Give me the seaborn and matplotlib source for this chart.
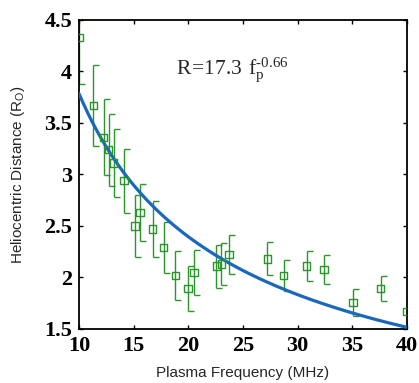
import numpy as np
import pandas as pd
import matplotlib
matplotlib.use("Agg")
import matplotlib.pyplot as plt
from matplotlib.path import Path
import seaborn as sns

# Observed plasma frequencies (MHz), heliocentric distances (R_O) and 1-sigma errors
freq_mhz = [10.0, 11.32, 12.26, 12.72, 13.17, 14.12, 15.12, 15.58, 16.74, 17.74,
            18.8, 19.97, 20.52, 22.56, 23.03, 23.73, 27.22, 28.72, 30.83, 32.42,
            35.07, 37.6, 40.0]
distance = [4.33, 3.67, 3.36, 3.24, 3.11, 2.94, 2.50, 2.63, 2.47, 2.29,
            2.02, 1.89, 2.05, 2.11, 2.13, 2.22, 2.18, 2.02, 2.11, 2.08,
            1.76, 1.89, 1.67]
dist_err = [0.45, 0.39, 0.37, 0.35, 0.33, 0.31, 0.30, 0.28, 0.27, 0.25,
            0.24, 0.22, 0.22, 0.21, 0.20, 0.19, 0.16, 0.15, 0.145, 0.14,
            0.13, 0.12, 0.11]

# Power-law fit R = a * f^b
fit_a = 17.3
fit_b = -0.66

x_ticks = [10, 15, 20, 25, 30, 35, 40]
y_ticks = [1.5, 2.0, 2.5, 3.0, 3.5, 4.0, 4.5]
y_tick_labels = ["1.5", "2", "2.5", "3", "3.5", "4", "4.5"]

sns.set_style("ticks")
plt.rcParams["mathtext.fontset"] = "custom"
plt.rcParams["mathtext.rm"] = "Liberation Serif"
plt.rcParams["mathtext.sf"] = "Liberation Sans"
plt.rcParams["font.family"] = ["Liberation Sans", "DejaVu Sans"]

df = pd.DataFrame({"freq": freq_mhz, "dist": distance, "err": dist_err})
f_grid = np.linspace(min(x_ticks), max(x_ticks), 300)
fit_df = pd.DataFrame({"freq": f_grid, "dist": fit_a * f_grid ** fit_b})

fig = plt.figure(figsize=(4.19, 3.83), dpi=100)
ax = fig.add_axes([0.1885, 0.141, 0.783, 0.807])

green = "#2a962a"
blue = "#1a68bb"

# error bars with caps drawn only on the right side
ax.errorbar(df["freq"], df["dist"], yerr=df["err"], fmt="none",
            ecolor=green, elinewidth=1.0, capsize=0, zorder=2)
half_cap = Path([(0, 0), (1, 0)], [Path.MOVETO, Path.LINETO])
ax.plot(df["freq"], df["dist"] + df["err"], linestyle="none", marker=half_cap,
        markersize=9, markeredgewidth=1.0, color=green, zorder=2)
ax.plot(df["freq"], df["dist"] - df["err"], linestyle="none", marker=half_cap,
        markersize=9, markeredgewidth=1.0, color=green, zorder=2)

sns.lineplot(data=fit_df, x="freq", y="dist", ax=ax, color=blue,
             linewidth=2.3, zorder=3)
sns.scatterplot(data=df, x="freq", y="dist", ax=ax, marker="s", s=28,
                facecolors="none", edgecolor=green, linewidth=1.0, zorder=4)

ax.set_xlim(10, 40)
ax.set_ylim(1.5, 4.5)
ax.set_xticks(x_ticks)
ax.set_yticks(y_ticks)
ax.set_yticklabels(y_tick_labels)
for lab in ax.get_xticklabels() + ax.get_yticklabels():
    lab.set_family("Liberation Serif")
    lab.set_fontweight("bold")
    lab.set_fontsize(16)

ax.tick_params(direction="in", length=3, width=1.0, top=True, right=True,
               pad=5, colors="black")
for sp in ax.spines.values():
    sp.set_linewidth(1.3)
    sp.set_color("black")

ax.set_xlabel("Plasma Frequency (MHz)", fontsize=11, labelpad=7)
ax.set_ylabel(r"Heliocentric Distance (R$_\mathsf{O}$)", fontsize=11,
              labelpad=12)

ax.text(18.9, 4.02, r"$\mathrm{R\!=\!17.3\ f_p^{\text{-0.66}}}$", fontsize=15.5,
        ha="left", va="center")

fig.savefig("out.png", dpi=100)
